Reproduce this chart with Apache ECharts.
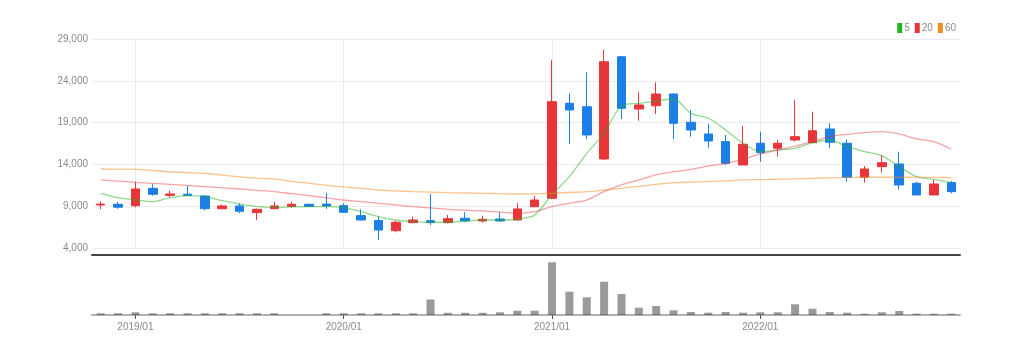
<!DOCTYPE html>
<html>
<head>
<meta charset="utf-8">
<script src="https://cdn.jsdelivr.net/npm/echarts@6/dist/echarts.min.js"></script>
<style>
  html, body { margin: 0; padding: 0; background: #fff; }
  #chart { width: 1025px; height: 354px; }
</style>
</head>
<body>
<div id="chart"></div>
<script>
const months = [
  '2018/11', '2018/12',
  '2019/01', '2019/02', '2019/03', '2019/04', '2019/05', '2019/06', '2019/07', '2019/08', '2019/09', '2019/10', '2019/11', '2019/12',
  '2020/01', '2020/02', '2020/03', '2020/04', '2020/05', '2020/06', '2020/07', '2020/08', '2020/09', '2020/10', '2020/11', '2020/12',
  '2021/01', '2021/02', '2021/03', '2021/04', '2021/05', '2021/06', '2021/07', '2021/08', '2021/09', '2021/10', '2021/11', '2021/12',
  '2022/01', '2022/02', '2022/03', '2022/04', '2022/05', '2022/06', '2022/07', '2022/08', '2022/09', '2022/10', '2022/11', '2022/12'
]

// monthly prices
const opens = [
  9150, 9230,
  9060, 11140, 10300, 10430, 10220, 8700, 9030, 8230, 8700, 8980, 9230, 9250,
  9060, 7870, 7300, 6070, 7030, 7270, 7030, 7560, 7230, 7470, 7350, 8940,
  9950, 21310, 20900, 14650, 26880, 20630, 21020, 22420, 19040, 17640, 16720, 13930,
  16530, 15930, 16920, 16600, 18240, 16530, 12460, 13730, 14050, 11740, 10340, 11820
]
const closes = [
  9250, 8880,
  11060, 10430, 10460, 10270, 8700, 9030, 8390, 8630, 9030, 9230, 8980, 9030,
  8270, 7350, 6150, 7080, 7350, 7030, 7510, 7230, 7440, 7230, 8670, 9740,
  21500, 20510, 17520, 26280, 20710, 21110, 22420, 18920, 18120, 16800, 14130, 16410,
  15400, 16530, 17320, 18030, 16650, 12460, 13450, 14210, 11540, 10340, 11660, 10740
]
const lows = [
  8650, 8700,
  8870, 10260, 10070, 10270, 8510, 8650, 8150, 7350, 8700, 8820, 8900, 8700,
  8230, 7300, 4960, 5880, 6950, 6750, 6950, 7150, 7030, 7150, 7300, 8870,
  9830, 16440, 17040, 14530, 19430, 19230, 20030, 17040, 17320, 16000, 13930, 13930,
  14330, 14920, 16720, 16530, 15930, 11930, 11820, 13010, 11020, 10340, 10340, 10540
]
const highs = [
  9550, 9500,
  11930, 11620, 10850, 11420, 10300, 9200, 9350, 8700, 9540, 9540, 9300, 10540,
  9350, 8630, 7750, 7270, 7750, 10460, 7950, 8270, 7870, 8270, 9350, 10220,
  26490, 22500, 25020, 27680, 26900, 22620, 23820, 22500, 20510, 18840, 17520, 18600,
  17910, 16920, 21700, 20300, 18920, 17000, 13810, 15130, 15520, 11930, 12140, 12020
]

// moving averages as shown
const ma5 = [
  10540, 10020,
  9740, 9540, 10020, 10260, 10140, 9660, 9260, 8950, 8870, 8910, 8950, 8950,
  8830, 8340, 7750, 7350, 7150, 7080, 7080, 7230, 7350, 7350, 7470, 7950,
  10400, 12530, 15330, 17720, 20990, 21310, 21580, 21820, 20110, 19520, 18120, 16530,
  15530, 15720, 15930, 16600, 16920, 16120, 15530, 15010, 13730, 12530, 12220, 11820
]
const ma20 = [
  12140, 12000,
  11860, 11740, 11620, 11480, 11340, 11200, 11060, 10900, 10740, 10500, 10260, 10000,
  9740, 9550, 9350, 9150, 8950, 8790, 8630, 8530, 8430, 8290, 8150, 8340,
  8950, 9350, 9740, 10740, 11540, 12140, 12740, 13130, 13410, 13810, 14130, 14610,
  15250, 15720, 16200, 16720, 17320, 17600, 17800, 17910, 17640, 17040, 16720, 15810
]
const ma60 = [
  13450, 13430,
  13410, 13270, 13120, 13020, 12940, 12720, 12500, 12370, 12260, 11980, 11760, 11500,
  11300, 11120, 10940, 10840, 10740, 10680, 10620, 10580, 10540, 10500, 10460, 10500,
  10540, 10640, 10740, 10940, 11140, 11380, 11620, 11820, 11880, 11940, 12040, 12140,
  12180, 12220, 12280, 12340, 12400, 12440, 12460, 12460, 12460, 12460, 12440, 12420
]

// traded volume
const volumes = [
  17000, 17000,
  27000, 17000, 17000, 17000, 17000, 17000, 17000, 17000, 17000, 0, 0, 17000,
  17000, 17000, 17000, 17000, 17000, 155000, 22000, 22000, 22000, 27000, 43000, 43000,
  527000, 233000, 177000, 333000, 210000, 73000, 90000, 47000, 30000, 23000, 30000, 23000,
  27000, 27000, 107000, 63000, 30000, 23000, 13000, 27000, 40000, 13000, 13000, 13000
]

const yTicks = { min: 4000, max: 29000, step: 5000 }

const UP = '#e8353a'
const DOWN = '#1b7fe6'
const LABEL_FONT = "'Liberation Sans Narrow', 'Liberation Sans', sans-serif"

const isJan = (idx, val) => String(val).endsWith('/01')

const candles = months.map((m, i) => [opens[i], closes[i], lows[i], highs[i]])

const chart = echarts.init(document.getElementById('chart'))
chart.setOption({
  animation: false,
  legend: {
    top: 18,
    right: 64,
    itemWidth: 5,
    itemHeight: 10,
    itemGap: 5,
    icon: 'rect',
    textStyle: { color: '#8a8a8a', fontSize: 10, fontFamily: LABEL_FONT, padding: [0, 0, 0, -3] },
    data: [
      { name: '5', itemStyle: { color: '#21b421', opacity: 1 } },
      { name: '20', itemStyle: { color: '#e8343a', opacity: 1 } },
      { name: '60', itemStyle: { color: '#f58a1f', opacity: 1 } }
    ]
  },
  grid: [
    { left: 92, right: 65, top: 39, height: 209 },
    { left: 92, right: 65, top: 255, height: 60 }
  ],
  xAxis: [
    {
      type: 'category',
      gridIndex: 0,
      data: months,
      boundaryGap: true,
      axisLine: { show: false },
      axisTick: { show: false },
      axisLabel: { show: false },
      splitLine: {
        show: true,
        interval: isJan,
        alignWithLabel: true,
        lineStyle: { color: '#ececec', width: 1 }
      }
    },
    {
      type: 'category',
      gridIndex: 1,
      data: months,
      boundaryGap: true,
      position: 'bottom',
      z: 5,
      axisLine: { show: true, lineStyle: { color: 'rgba(60,60,60,0.4)', width: 2 } },
      axisTick: { show: true, interval: isJan, alignWithLabel: true, length: 4, lineStyle: { color: '#555' } },
      axisLabel: { interval: isJan, color: '#8a8a8a', fontSize: 10, fontFamily: LABEL_FONT, margin: 7 },
      splitLine: { show: false }
    },
    {
      type: 'category',
      gridIndex: 1,
      data: months,
      boundaryGap: true,
      position: 'top',
      z: 5,
      axisLine: { show: true, lineStyle: { color: '#444', width: 2 } },
      axisTick: { show: false },
      axisLabel: { show: false },
      splitLine: { show: false }
    }
  ],
  yAxis: [
    {
      type: 'value',
      gridIndex: 0,
      min: yTicks.min,
      max: yTicks.max,
      interval: yTicks.step,
      axisLine: { show: false },
      axisTick: { show: false },
      axisLabel: {
        color: '#8a8a8a',
        fontSize: 10,
        fontFamily: LABEL_FONT,
        margin: 4,
        formatter: v => String(v).replace(/\B(?=(\d{3})+(?!\d))/g, ',')
      },
      splitLine: { lineStyle: { color: '#ececec' } }
    },
    {
      type: 'value',
      gridIndex: 1,
      min: 0,
      max: 600000,
      show: false,
      splitLine: { show: false }
    }
  ],
  series: [
    {
      name: 'price',
      type: 'candlestick',
      xAxisIndex: 0,
      yAxisIndex: 0,
      barWidth: 9,
      data: candles,
      itemStyle: {
        color: UP,
        color0: DOWN,
        borderColor: UP,
        borderColor0: DOWN,
        borderWidth: 1
      },
      z: 3
    },
    {
      name: '5',
      type: 'line',
      data: ma5,
      smooth: 0.3,
      symbol: 'none',
      color: '#21b421',
      lineStyle: { width: 1.3, color: '#21b421', opacity: 0.5 },
      z: 4
    },
    {
      name: '20',
      type: 'line',
      data: ma20,
      smooth: 0.3,
      symbol: 'none',
      color: '#e8343a',
      lineStyle: { width: 1.3, color: '#e8343a', opacity: 0.45 },
      z: 4
    },
    {
      name: '60',
      type: 'line',
      data: ma60,
      smooth: 0.3,
      symbol: 'none',
      color: '#f58a1f',
      lineStyle: { width: 1.3, color: '#f58a1f', opacity: 0.5 },
      z: 4
    },
    {
      name: 'volume',
      type: 'bar',
      xAxisIndex: 1,
      yAxisIndex: 1,
      barWidth: 8,
      data: volumes,
      itemStyle: { color: '#9a9a9a' },
      z: 2
    }
  ]
})
</script>
</body>
</html>
